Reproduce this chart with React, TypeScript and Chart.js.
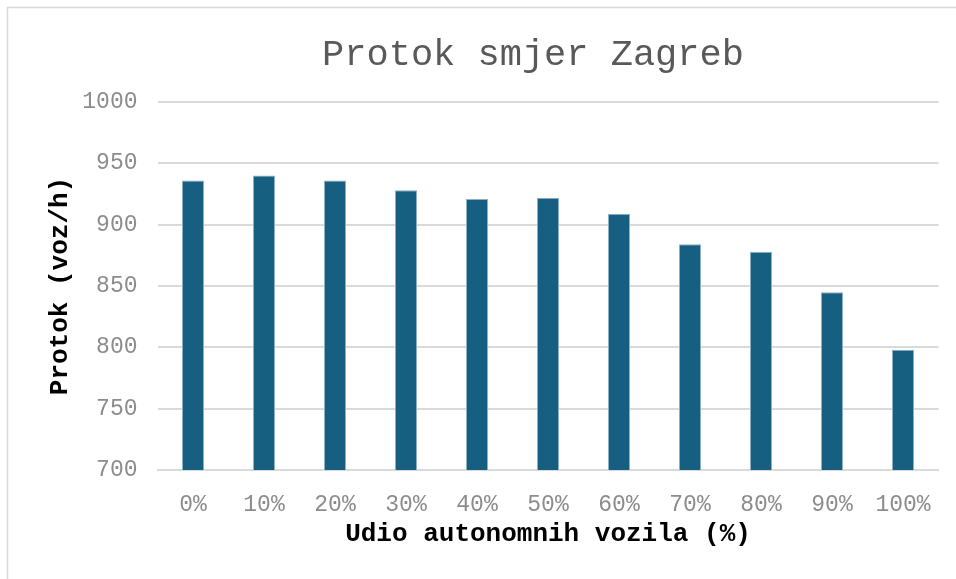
import React, { useEffect, useRef } from "react";
import { Chart, registerables } from "chart.js";

Chart.register(...registerables);

const categories = ["0%", "10%", "20%", "30%", "40%", "50%", "60%", "70%", "80%", "90%", "100%"];
const flowValues = [936, 940, 936, 928, 921, 922, 909, 884, 878, 845, 798];
const yTicks = { min: 700, max: 1000, step: 50 };
const chartTitle = "Protok smjer Zagreb";
const xTitle = "Udio autonomnih vozila (%)";
const yTitle = "Protok (voz/h)";

const FONT = "'Liberation Mono', 'Courier New', monospace";

const framePlugin = {
  id: "frame",
  beforeDraw(chart: any) {
    const ctx = chart.ctx;
    ctx.save();
    ctx.fillStyle = "#ffffff";
    ctx.fillRect(0, 0, chart.width, chart.height);
    ctx.strokeStyle = "#d9d9d9";
    ctx.lineWidth = 1.5;
    ctx.strokeRect(7.5, 7.5, chart.width + 20, chart.height + 20);
    ctx.restore();
  },
};

// Title centred over the (wider, cropped) chart frame, as in the reference
const titlePlugin = {
  id: "frameTitle",
  afterDraw(chart: any) {
    const ctx = chart.ctx;
    const area = chart.chartArea;
    ctx.save();
    ctx.fillStyle = "#595959";
    ctx.font = `normal 37px ${FONT}`;
    ctx.textAlign = "center";
    ctx.textBaseline = "middle";
    ctx.fillText(chartTitle, (area.left + area.right) / 2 - 15, area.top - 47);
    ctx.restore();
  },
};

export default function App() {
  const ref = useRef<HTMLCanvasElement | null>(null);

  useEffect(() => {
    document.body.style.margin = "0";
    if (!ref.current) return;
    const chart = new Chart(ref.current, {
      type: "bar",
      data: {
        labels: categories,
        datasets: [
          {
            data: flowValues,
            backgroundColor: "#175f80",
            borderColor: "#8db0c6",
            borderWidth: 1,
            barPercentage: 0.31,
            categoryPercentage: 1,
          },
        ],
      },
      options: {
        animation: false,
        responsive: false,
        maintainAspectRatio: false,
        layout: { padding: { left: 0, right: 17.5, top: 102, bottom: 0 } },
        plugins: {
          legend: { display: false },
          tooltip: { enabled: false },
          title: { display: false },
        },
        scales: {
          x: {
            grid: { display: false },
            border: { display: true, color: "#d9d9d9", width: 2 },
            ticks: {
              color: "#8c8c8c",
              font: { family: FONT, size: 23, lineHeight: 1.2 },
              padding: 13,
              maxRotation: 0,
              autoSkip: false,
            },
            title: {
              display: true,
              text: xTitle,
              color: "#000000",
              font: { family: FONT, size: 26, weight: "bold", lineHeight: 1.2 },
              padding: { top: 0, bottom: 29.4 },
            },
            afterFit(scale: any) {
              scale.height = 109;
            },
          },
          y: {
            min: yTicks.min,
            max: yTicks.max,
            grid: { color: "#d9d9d9", lineWidth: 2, drawTicks: false },
            border: { display: false },
            ticks: {
              stepSize: yTicks.step,
              color: "#8c8c8c",
              font: { family: FONT, size: 23, lineHeight: 1.2 },
              padding: 20,
              callback: (v: any) => String(v),
            },
            title: {
              display: true,
              text: yTitle,
              color: "#000000",
              font: { family: FONT, size: 26, weight: "bold", lineHeight: 1.2 },
              padding: { top: 44.4, bottom: 0 },
            },
            afterFit(scale: any) {
              scale.width = 157.5;
            },
          },
        },
      },
      plugins: [framePlugin, titlePlugin],
    });
    return () => chart.destroy();
  }, []);

  return (
    <div style={{ width: 956, height: 579 }}>
      <canvas ref={ref} width={956} height={579} style={{ display: "block" }} />
    </div>
  );
}
